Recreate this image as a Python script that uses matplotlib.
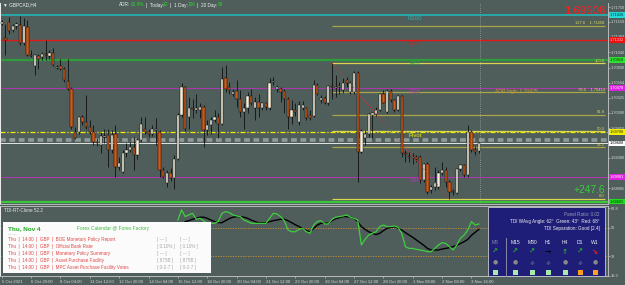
import matplotlib
matplotlib.use('Agg')
import matplotlib.pyplot as plt
import matplotlib.transforms as mtransforms
from matplotlib.patches import Rectangle
import numpy as np

plt.rcParams['font.family'] = ['Liberation Sans', 'DejaVu Sans']

# ---------------- data ----------------
opens = [1.7149,1.7126,1.7152,1.7139,1.7145,1.7146,1.7118,1.7144,1.7100,1.7082,
         1.7098,1.7097,1.7101,1.7098,1.7103,1.7079,1.7082,1.7078,1.7059,1.7047,
         1.6979,1.6978,1.7002,1.6994,1.6986,1.6978,1.6963,1.6958,1.6971,1.6974,
         1.6950,1.6975,1.6924,1.6916,1.6945,1.6951,1.6955,1.6942,1.6966,1.6984,
         1.6979,1.6976,1.6982,1.6979,1.6919,1.6898,1.6915,1.6906,1.6937,1.7006,
         1.7049,1.7002,1.7017,1.7013,1.7013,1.7018,1.6982,1.6990,1.6997,1.7002,
         1.6992,1.7063,1.7049,1.7039,1.7043,1.7031,1.7010,1.7016,1.7035,1.7017,
         1.7026,1.7017,1.7024,1.7017,1.7057,1.7046,1.7047,1.7043,1.7030,1.7002,
         1.7014,1.6995,1.7017,1.7017,1.7005,1.7004,1.7052,1.7029,1.7032,1.7024,
         1.7051,1.7048,1.7049,1.7044,1.7061,1.7042,1.7042,1.7072,1.6948,1.6969,
         1.6976,1.7005,1.7007,1.7014,1.7038,1.7010,1.7043,1.7029,1.7014,1.7035,
         1.6946,1.6941,1.6938,1.6940,1.6940,1.6903,1.6928,1.6887,1.6892,1.6892,
         1.6914,1.6919,1.6901,1.6886,1.6883,1.6920,1.6927,1.6911,1.6978,1.6950,
         1.6949]
highs = [1.7154,1.7149,1.7160,1.7149,1.7152,1.7161,1.7157,1.7154,1.7107,1.7102,
         1.7102,1.7105,1.7123,1.7107,1.7110,1.7084,1.7094,1.7081,1.7093,1.7050,
         1.6987,1.7004,1.7005,1.7037,1.6997,1.6990,1.6969,1.6979,1.6984,1.6984,
         1.6982,1.6990,1.6940,1.6950,1.6961,1.6963,1.6971,1.6969,1.7003,1.7003,
         1.6984,1.6990,1.7000,1.6982,1.6924,1.6919,1.6922,1.6942,1.7008,1.7055,
         1.7051,1.7034,1.7031,1.7039,1.7024,1.7021,1.6997,1.7003,1.7013,1.7008,
         1.7081,1.7084,1.7058,1.7047,1.7060,1.7044,1.7024,1.7042,1.7047,1.7034,
         1.7039,1.7026,1.7026,1.7063,1.7065,1.7052,1.7050,1.7047,1.7034,1.7029,
         1.7024,1.7028,1.7028,1.7018,1.7013,1.7060,1.7055,1.7037,1.7035,1.7052,
         1.7087,1.7068,1.7058,1.7063,1.7065,1.7059,1.7074,1.7074,1.6984,1.6982,
         1.7009,1.7010,1.7018,1.7040,1.7044,1.7047,1.7046,1.7031,1.7037,1.7037,
         1.6950,1.6948,1.6945,1.6942,1.6942,1.6930,1.6932,1.6895,1.6924,1.6919,
         1.6932,1.6924,1.6903,1.6890,1.6922,1.6929,1.6929,1.6990,1.6982,1.6956,
         1.6963]
lows = [1.7146,1.7099,1.7133,1.7136,1.7141,1.7115,1.7115,1.7098,1.7097,1.7068,
        1.7078,1.7092,1.7092,1.7094,1.7082,1.7077,1.7076,1.7058,1.7044,1.6984,
        1.6967,1.6975,1.6990,1.6983,1.6975,1.6958,1.6956,1.6945,1.6961,1.6924,
        1.6945,1.6908,1.6919,1.6914,1.6940,1.6948,1.6919,1.6937,1.6963,1.6976,
        1.6971,1.6972,1.6958,1.6908,1.6906,1.6892,1.6902,1.6890,1.6935,1.7003,
        1.6981,1.6984,1.7000,1.7008,1.7000,1.6955,1.6974,1.6975,1.6995,1.6969,
        1.6990,1.7042,1.7039,1.7035,1.7018,1.7003,1.6984,1.7008,1.7021,1.6997,
        1.7003,1.7013,1.7013,1.7013,1.7052,1.7042,1.7026,1.7008,1.6984,1.6992,
        1.7004,1.6990,1.7014,1.6997,1.6997,1.7002,1.7037,1.7025,1.7023,1.7021,
        1.7030,1.7034,1.7039,1.7040,1.7050,1.7038,1.7039,1.6901,1.6945,1.6958,
        1.6971,1.6969,1.7004,1.7012,1.7024,1.7009,1.7026,1.7010,1.7012,1.6940,
        1.6932,1.6932,1.6929,1.6932,1.6898,1.6901,1.6882,1.6883,1.6888,1.6889,
        1.6911,1.6893,1.6874,1.6880,1.6882,1.6918,1.6908,1.6908,1.6948,1.6942,
        1.6945]
closes = [1.7152,1.7123,1.7138,1.7145,1.7148,1.7119,1.7145,1.7099,1.7098,1.7099,
          1.7093,1.7102,1.7099,1.7103,1.7084,1.7081,1.7077,1.7060,1.7047,1.6987,
          1.6969,1.7002,1.6994,1.6986,1.6978,1.6963,1.6961,1.6972,1.6973,1.6950,
          1.6974,1.6924,1.6930,1.6945,1.6951,1.6955,1.6942,1.6966,1.6992,1.6979,
          1.6975,1.6984,1.6984,1.6919,1.6908,1.6914,1.6906,1.6937,1.7006,1.7049,
          1.6983,1.7016,1.7015,1.7016,1.7018,1.6982,1.6990,1.6997,1.7002,1.6992,
          1.7062,1.7046,1.7044,1.7042,1.7031,1.7010,1.7016,1.7035,1.7024,1.7026,
          1.7017,1.7024,1.7018,1.7056,1.7059,1.7049,1.7042,1.7030,1.7002,1.7013,
          1.7010,1.7021,1.7021,1.7000,1.7000,1.7052,1.7039,1.7032,1.7025,1.7051,
          1.7049,1.7050,1.7051,1.7056,1.7055,1.7056,1.7072,1.6948,1.6981,1.6976,
          1.7007,1.7008,1.7014,1.7038,1.7025,1.7043,1.7029,1.7014,1.7035,1.6945,
          1.6944,1.6939,1.6940,1.6937,1.6903,1.6928,1.6885,1.6892,1.6899,1.6915,
          1.6919,1.6901,1.6885,1.6884,1.6920,1.6927,1.6911,1.6978,1.6950,1.6948,
          1.6961]

date_labels = ["5 Oct 2021", "6 Oct 20:00", "8 Oct 04:00", "11 Oct 12:00", "12 Oct 20:00",
               "14 Oct 04:00", "15 Oct 12:00", "18 Oct 20:00", "20 Oct 04:00", "21 Oct 12:00",
               "22 Oct 20:00", "26 Oct 04:00", "27 Oct 12:00", "28 Oct 20:00", "1 Nov 08:00",
               "2 Nov 08:00", "3 Nov 16:00"]

# pivot levels
pivot_names = ["R100", "R76", "R61", "R38", "Pivot", "S38", "S61"]
pivot_prices = [1.71625, 1.71232, 1.70918, 1.70478, 1.69788, 1.69081, 1.68696]
pivot_boxes = ["1.71626", "1.71232", "1.70918", "1.70478", "1.69788", "1.69081", "1.68665"]

# fibonacci swing
fib_high = 1.7087
fib_low = 1.6874
fib_ratios = [0.0, 38.2, 50.0, 61.8, 78.6, 100.0, 127.6]
fib_high_bar = 90
fib_low_bar = 122

bid_price = 1.69608
gray_level = 1.69662
adr_high = 1.70425

axis_ticks = [1.71750, 1.71519, 1.71284, 1.71040, 1.70800, 1.70564, 1.70325,
              1.70090, 1.69850, 1.69380, 1.68905]

# TDI indicator
tdi_green_start = 48
tdi_green = [55.1,61.6,57.3,58.4,59.4,55.6,56.2,54.7,53.0,53.0,53.0,54.1,59.4,60.5,59.9,
             58.4,57.7,57.3,55.1,54.1,53.0,53.0,53.0,53.0,53.0,56.2,59.4,59.0,57.3,54.7,
             48.7,47.6,47.6,49.1,49.8,47.6,46.6,51.9,54.1,54.7,52.6,52.6,55.6,56.9,57.3,
             57.7,58.4,56.9,56.2,55.1,39.1,42.7,45.5,46.6,47.6,50.9,51.9,50.9,50.9,51.3,
             50.4,46.6,38.0,36.9,36.9,36.3,35.9,35.4,34.8,34.8,36.9,39.1,40.6,40.1,38.0,
             35.9,39.1,43.4,45.5,48.7,54.1,51.9,52.6]
tdi_black_start = 50
tdi_black = [54.1,54.7,55.6,56.2,56.9,56.9,56.2,55.1,54.1,53.4,53.4,54.7,56.0,56.9,57.3,
             57.3,56.9,56.2,55.1,54.1,53.4,53.4,53.4,54.1,54.7,55.1,55.6,55.6,54.7,53.4,
             52.1,50.9,49.6,48.3,47.6,49.8,51.9,53.0,53.0,53.0,54.7,56.0,56.6,57.3,57.3,
             56.9,56.2,54.1,50.9,49.1,47.6,46.6,45.7,46.6,48.3,49.8,50.4,50.9,49.8,48.7,
             47.0,45.5,44.0,42.3,40.6,38.9,36.9,35.9,35.9,35.9,36.5,36.9,37.4,38.0,38.9,
             40.1,41.2,42.7,45.3,47.2,49.1]
tdi_levels = [50, 32]
tdi_ticks = [62.8, 50, 32, 19.3]

cal_rows = ["BOE Monetary Policy Report", "Official Bank Rate", "Monetary Policy Summary",
            "Asset Purchase Facility", "MPC Asset Purchase Facility Votes"]
cal_fore = ["[ --- ]", "[ 0.10% ]", "[ --- ]", "[ 875B ]", "[ 0-2-7 ]"]
cal_prev = ["[ --- ]", "[ 0.10% ]", "[ --- ]", "[ 875B ]", "[ 0-2-7 ]"]

tf_names = ["M5", "M15", "M30", "H1", "H4", "D1", "W1"]
tf_arrows = ["↗", "↗", "↗", "→", "↑", "↗", "↘"]
tf_arrow_colors = ["#2faa2f", "#2faa2f", "#2faa2f", "#000000", "#2faa2f", "#2faa2f", "#ff2020"]
tf_link = [False, False, True, True, False, True, False]
tf_square = ["#a8e8a8", "#a8e8a8", "#a8e8a8", "#a8e8a8", "#a8e8a8", "#ffa020", "#ffa020"]

# ---------------- figure ----------------
W, H = 625, 285
BG = '#4f5e5b'
fig = plt.figure(figsize=(W / 100, H / 100), dpi=100, facecolor=BG)

def fx(x):
    return x / W

def fy(y):
    return 1 - y / H

ax = fig.add_axes([0, fy(204), 608 / W, 201 / H], facecolor=BG)
ax2 = fig.add_axes([0, fy(276), 608 / W, 70 / H], facecolor=BG)
XL = (-0.463, 165.2)
ax.set_xlim(XL)
ax.set_ylim(1.68657, 1.71813)
ax2.set_xlim(XL)
ax2.set_ylim(19.2, 64.1)

for a in (ax, ax2):
    for s in a.spines.values():
        s.set_color('#b8bcbc')
        s.set_linewidth(0.7)
    a.spines['left'].set_color('#f0f0f0')
ax.spines['top'].set_visible(False)

# candles
o = np.array(opens); c = np.array(closes); h = np.array(highs); l = np.array(lows)
idx = np.arange(len(c))
up = c >= o
ax.vlines(idx, l, h, color='black', lw=0.5, zorder=3)
bb = np.minimum(o, c)
bh = np.maximum(np.abs(c - o), 0.00004)
ax.bar(idx[up], bh[up], bottom=bb[up], width=0.62, color='#f6eedb', edgecolor='black', lw=0.3, zorder=4)
ax.bar(idx[~up], bh[~up], bottom=bb[~up], width=0.62, color='#cc5a1c', edgecolor='black', lw=0.3, zorder=4)

# pivot levels
pcols = ['#22b4b4', '#e01818', '#2e9e3a', '#c030c0', '#f0f000', '#c030c0', '#3cc63c']
plw = [1.2, 1.0, 1.6, 0.6, 0.9, 0.6, 1.6]
for name, p, col, lw_ in zip(pivot_names, pivot_prices, pcols, plw):
    if name == 'Pivot':
        ax.axhline(p, color=col, lw=lw_, ls=(0, (4, 1.5, 1, 1.5)), zorder=2)
    else:
        ax.axhline(p, color=col, lw=lw_, zorder=2)
    if name != 'S61':
        ax.text(112.6, p - 0.00022, name, ha='center', va='top', color=col, fontsize=4.3, zorder=6)

# fib levels
flev = [fib_low + r / 100 * (fib_high - fib_low) for r in fib_ratios]
for r, lv in zip(fib_ratios, flev):
    col = '#d8d84a' if r in (0.0, 50.0, 100.0) else '#a9a64a'
    ax.hlines(lv, fib_high_bar, 164.4, color=col, lw=0.9, zorder=2.5)
    txt = f"{r:.1f}"
    if r in (127.6, 78.6):
        txt = f"{r:.1f}    {lv:.5f}"
    ax.text(164.3, lv + 0.00006, txt, ha='right', va='bottom', color='#d8d860', fontsize=3.0, zorder=6)
ax.plot([fib_high_bar, fib_low_bar], [fib_high, fib_low], ls=(0, (1, 2)), color='#e03030', lw=0.7, zorder=5)

ax.axhline(gray_level, color='#8f9a97', lw=2.6, ls=(0, (1.6, 1.0)), zorder=1.5)
ax.axhline(bid_price, color='#e4e4e4', lw=0.7, zorder=2)
ax.axvline(130.3, color='#b8c0c0', lw=0.5, ls=(0, (1, 2)), zorder=1.5)
ax.text(140.3, adr_high, f"ADR high: {adr_high:.5f}", ha='center', va='center', color='#d49a30', fontsize=3.6, zorder=6)

# right axis
ax.yaxis.tick_right()
ax.set_yticks(axis_ticks)
ax.set_yticklabels([f"{t:.5f}" for t in axis_ticks])
ax.tick_params(axis='y', labelsize=2.8, labelcolor='#dadada', color='#c0c0c0', length=1.2, pad=0.8, width=0.5)
ax.set_xticks([])

trans = mtransforms.blended_transform_factory(ax.transAxes, ax.transData)
box_fc = ['#22d8d8', '#ee1010', '#30e030', '#e020e0', '#f0f000', '#e020e0', '#20e020']
box_tc = ['#003030', '#ffd0d0', '#003000', '#ffffff', '#303000', '#ffffff', '#003000']
for p, lab, fc, tc in zip(pivot_prices, pivot_boxes, box_fc, box_tc):
    ax.text(1.0035, p, lab, transform=trans, ha='left', va='center', fontsize=2.8, color=tc,
            bbox=dict(fc=fc, ec='none', pad=0.5), clip_on=False, zorder=7)
ax.text(1.0035, bid_price, f"{bid_price:.5f}", transform=trans, ha='left', va='center', fontsize=2.8,
        color='black', bbox=dict(fc='#ffffff', ec='none', pad=0.5), clip_on=False, zorder=7)

# header texts
fig.text(fx(3), fy(5), "▼ GBPCAD,H4", color='#f0f0f0', fontsize=3.4, va='center', ha='left')
hdr = [("ADR:", 119, '#f0f0f0'), ("62.9%", 131, '#30d030'), ("|  Today:", 146, '#f0f0f0'),
       ("12", 163, '#30d030'), ("|  1 Day:", 170, '#f0f0f0'), ("106", 188, '#30d030'),
       ("|  20 Day:", 197, '#f0f0f0'), ("90", 218, '#30d030')]
for t, xx, col in hdr:
    fig.text(fx(xx), fy(5), t, color=col, fontsize=3.4, va='center', ha='left')
fig.text(fx(605), fy(11), f"{bid_price:.5f}", color='#ff2020', fontsize=8.2, ha='right', va='center')
fig.text(fx(605), fy(190), "+247.6", color='#38cc38', fontsize=7.4, ha='right', va='center')

# indicator
ax2.plot(np.arange(tdi_black_start, tdi_black_start + len(tdi_black)), tdi_black, color='black', lw=1.0, zorder=3)
ax2.plot(np.arange(tdi_green_start, tdi_green_start + len(tdi_green)), tdi_green, color='#3fcf3f', lw=0.9, zorder=4)
for lv in tdi_levels:
    ax2.axhline(lv, color='#d0902a', lw=0.6, ls=(0, (1.5, 1.5)), zorder=2)
ax2.yaxis.tick_right()
ax2.set_yticks(tdi_ticks)
ax2.set_yticklabels([str(t) for t in tdi_ticks])
ax2.tick_params(axis='y', labelsize=2.8, labelcolor='#dadada', color='#c0c0c0', length=1.2, pad=0.8, width=0.5)
ax2.set_xticks(np.arange(len(date_labels)) * 8)
ax2.set_xticklabels(date_labels, ha='left')
ax2.tick_params(axis='x', labelsize=3.1, labelcolor='#dadada', color='#c0c0c0', length=1.5, pad=1.2, width=0.5)
fig.text(fx(4), fy(210), "TDI-RT-Clone 52.2", color='#e8e8e8', fontsize=3.3, ha='left', va='center')

# calendar box
fig.add_artist(Rectangle((fx(3), fy(273)), 208 / W, 51 / H, transform=fig.transFigure,
                         fc='#fbfbfb', ec='none', zorder=5))
fig.text(fx(8), fy(228.5), "Thu, Nov 4", color='#1faa1f', fontsize=4.6, fontweight='bold',
         ha='left', va='center', zorder=6)
fig.text(fx(113), fy(228.5), "Forex Calendar @ Forex Factory", color='#3cba3c', fontsize=3.5,
         ha='center', va='center', zorder=6)
fig.text(fx(8), fy(234), "-------", color='#999999', fontsize=3.0, ha='left', va='center', zorder=6)
for k, (ev, fo, pr) in enumerate(zip(cal_rows, cal_fore, cal_prev)):
    yy = 240 + k * 6.9
    fig.text(fx(8), fy(yy), "Thu  |  14:00  |  GBP  |  " + ev, color='#e04848', fontsize=3.3,
             ha='left', va='center', zorder=6)
    fig.text(fx(157), fy(yy), fo, color='#a8a8a8', fontsize=3.3, ha='left', va='center', zorder=6)
    fig.text(fx(180), fy(yy), pr, color='#a8a8a8', fontsize=3.3, ha='left', va='center', zorder=6)

# TDI panel
fig.add_artist(Rectangle((fx(488), fy(276)), 117 / W, 69 / H, transform=fig.transFigure,
                         fc='#1e1e78', ec='#c8c8d0', lw=0.6, zorder=5))
fig.text(fx(600), fy(214.5), "Panel Ratio: 0.02", color='#9a9ab8', fontsize=3.3, ha='right', va='center', zorder=6)
fig.text(fx(600), fy(221.5), "TDI WAvg Angle: 62°  Green: 43°  Red: 68°", color='#f0f0f0', fontsize=3.3,
         ha='right', va='center', zorder=6)
fig.text(fx(600), fy(228.5), "TDI Separation: Good [2.4]", color='#f0f0f0', fontsize=3.3,
         ha='right', va='center', zorder=6)
fig.add_artist(plt.Line2D([fx(506), fx(506)], [fy(238), fy(276)], transform=fig.transFigure,
                          color='#8888aa', lw=0.7, zorder=6))
colx = [495, 515, 532, 548, 565, 580, 595]
for k, xx in enumerate(colx):
    fig.text(fx(xx), fy(243), tf_names[k], color='#8c8ca8' if k == 0 else '#f0f0f0', fontsize=3.6,
             ha='center', va='center', zorder=6)
    fig.text(fx(xx), fy(252), tf_arrows[k], color=tf_arrow_colors[k], fontsize=5.2, fontweight='bold',
             ha='center', va='center', zorder=6, family='DejaVu Sans')
    if tf_link[k]:
        fig.text(fx(xx), fy(262), "∞", color='#7c7c98', fontsize=4.2, rotation=45,
                 ha='center', va='center', zorder=6, family='DejaVu Sans')
    else:
        fig.text(fx(xx), fy(262), "●", color='#8a8a8a', fontsize=4.2,
                 ha='center', va='center', zorder=6, family='DejaVu Sans')
    fig.add_artist(Rectangle((fx(xx - 2.5), fy(274.5)), 5 / W, 5 / H, transform=fig.transFigure,
                             fc=tf_square[k], ec='none', zorder=6))

fig.savefig('out.png', dpi=100, facecolor=BG)
